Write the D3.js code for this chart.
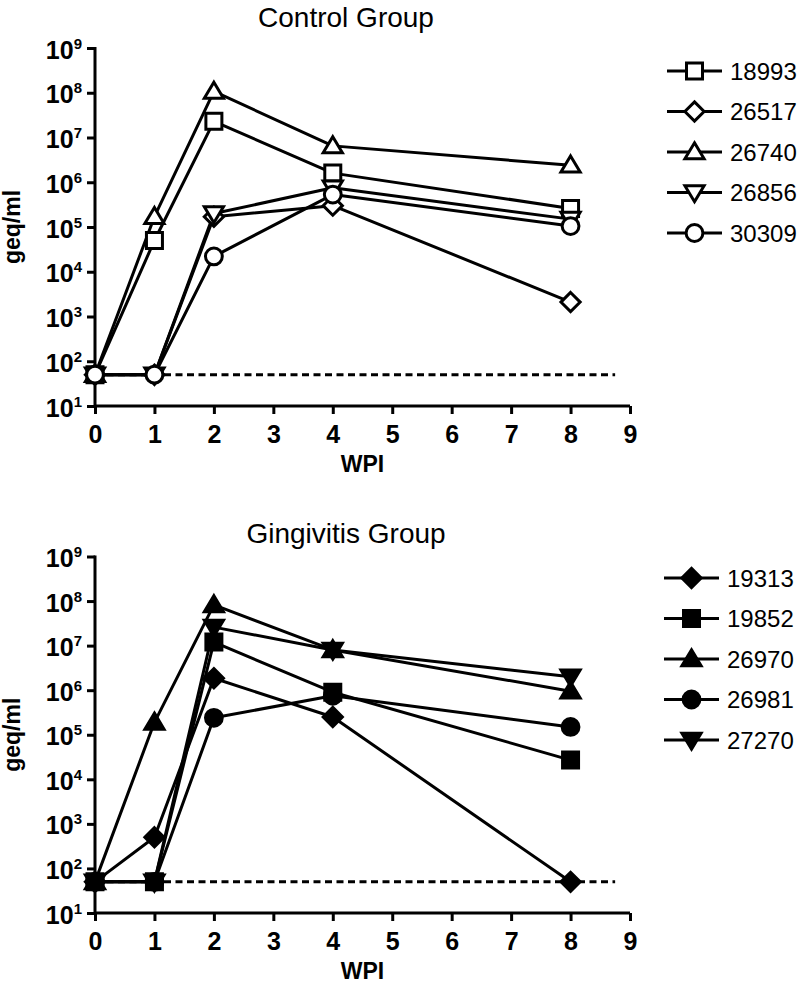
<!DOCTYPE html>
<html><head><meta charset="utf-8">
<script src="https://cdn.jsdelivr.net/npm/d3@7"></script>
<style>body{margin:0;background:#fff;} svg{display:block;}</style>
</head><body>
<svg id="chart" width="800" height="985"></svg>
<script>
const weeks = [0, 1, 2, 4, 8];
const xTicks = [0,1,2,3,4,5,6,7,8,9];
const yTicks = [1,2,3,4,5,6,7,8,9];
const detectionLimit = 50;

const controlTitle = "Control Group";
const controlIds = ["18993","26517","26740","26856","30309"];
const controlShapes = ["square","diamond","triangle","triangleDown","circle"];
const c18993 = [50, 5.0e4, 2.3e7, 1.6e6, 2.6e5];
const c26517 = [50, 50, 1.7e5, 3.0e5, 2.1e3];
const c26740 = [50, 1.7e5, 1.07e8, 6.5e6, 2.4e6];
const c26856 = [50, 50, 2.0e5, 7.5e5, 1.5e5];
const c30309 = [50, 50, 2.2e4, 5.3e5, 1.05e5];

const gingTitle = "Gingivitis Group";
const gingIds = ["19313","19852","26970","26981","27270"];
const gingShapes = ["diamond","square","triangle","circle","triangleDown"];
const g19313 = [50, 500, 1.85e6, 2.5e5, 50];
const g19852 = [50, 50, 1.2e7, 9.0e5, 2.7e4];
const g26970 = [50, 1.9e5, 8.2e7, 8.0e6, 9.5e5];
const g26981 = [50, 50, 2.4e5, 7.5e5, 1.5e5];
const g27270 = [50, 50, 2.6e7, 8.0e6, 2.0e6];

const svg = d3.select("#chart");
const FONT = "'Liberation Sans', Arial, sans-serif";

function shapePath(shape, s) {
  const h = s / 2;
  switch (shape) {
    case "square": return `M${-h},${-h}H${h}V${h}H${-h}Z`;
    case "diamond": { const d = h * 1.2; return `M0,${-d}L${d},0L0,${d}L${-d},0Z`; }
    case "triangle": { const w = h * 1.2; return `M0,${-h*1.15}L${w},${h*0.85}L${-w},${h*0.85}Z`; }
    case "triangleDown": { const w = h * 1.2; return `M0,${h*1.15}L${w},${-h*0.85}L${-w},${-h*0.85}Z`; }
    case "circle": { const r = h * 1.05; return `M${r},0A${r},${r} 0 1,1 ${-r},0A${r},${r} 0 1,1 ${r},0Z`; }
  }
}

function drawPanel(opts) {
  const g = svg.append("g");
  const x = d3.scaleLinear().domain([0, 9]).range([95, 630]);
  const y = d3.scaleLog().domain([10, 1e9]).range([opts.bottom, opts.top]);

  // title
  g.append("text").attr("x", 346).attr("y", opts.titleY).attr("text-anchor", "middle")
    .attr("font-family", FONT).attr("font-size", 28).text(opts.title);

  // axes
  const xAxis = d3.axisBottom(x).tickValues(xTicks).tickSize(8).tickFormat(d3.format("d"));
  const xa = g.append("g").attr("transform", `translate(0,${opts.bottom})`).call(xAxis);
  xa.select(".domain").attr("stroke-width", 3).attr("d", `M${x(0)},0H${x(9)}`);
  xa.selectAll(".tick line").attr("stroke-width", 3);
  xa.selectAll(".tick text").attr("font-family", FONT).attr("font-weight", "bold")
    .attr("font-size", 25).attr("y", 37).attr("dy", 0);

  const yAxis = d3.axisLeft(y).tickValues(yTicks.map(p => Math.pow(10, p))).tickSize(8).tickFormat("");
  const ya = g.append("g").attr("transform", `translate(${x(0)},0)`).call(yAxis);
  ya.select(".domain").attr("stroke-width", 3).attr("d", `M0,${opts.top - 1}V${opts.bottom}`);
  ya.selectAll(".tick line").attr("stroke-width", 3);
  ya.selectAll(".tick").each(function(d, i) {
    const t = d3.select(this).append("text").attr("x", -13).attr("y", 10)
      .attr("text-anchor", "end").attr("font-family", FONT).attr("font-weight", "bold")
      .attr("font-size", 25).attr("fill", "#000");
    t.append("tspan").text("10");
    t.append("tspan").attr("font-size", 15).attr("dy", -10).text(String(yTicks[i]));
  });

  // axis labels
  g.append("text").attr("transform", `translate(20,${(opts.top + opts.bottom) / 2}) rotate(-90)`)
    .attr("text-anchor", "middle").attr("font-family", FONT).attr("font-weight", "bold")
    .attr("font-size", 23).text("geq/ml");
  g.append("text").attr("x", x(4.5)).attr("y", opts.bottom + 66).attr("text-anchor", "middle")
    .attr("font-family", FONT).attr("font-weight", "bold").attr("font-size", 23).text("WPI");

  // detection limit
  g.append("line").attr("x1", x(0)).attr("x2", x(8.75))
    .attr("y1", y(detectionLimit)).attr("y2", y(detectionLimit))
    .attr("stroke", "#000").attr("stroke-width", 3).attr("stroke-dasharray", "7,4.5");

  const line = d3.line().x((d, i) => x(weeks[i])).y(d => y(d));
  opts.series.forEach(s => {
    g.append("path").attr("d", line(s.values)).attr("fill", "none")
      .attr("stroke", "#000").attr("stroke-width", 3).attr("stroke-linejoin", "round");
  });
  opts.series.forEach(s => {
    g.selectAll(null).data(s.values).enter().append("path")
      .attr("d", shapePath(s.shape, 16))
      .attr("transform", (d, i) => `translate(${x(weeks[i])},${y(d)})`)
      .attr("fill", opts.filled ? "#000" : "#fff").attr("stroke", "#000").attr("stroke-width", 3);
  });

  // legend
  const lg = g.append("g");
  opts.series.forEach((s, i) => {
    const ly = opts.legendY + i * 40.5;
    lg.append("line").attr("x1", opts.legendX).attr("x2", opts.legendX + 55)
      .attr("y1", ly).attr("y2", ly).attr("stroke", "#000").attr("stroke-width", 3);
    lg.append("path").attr("d", shapePath(s.shape, 16))
      .attr("transform", `translate(${opts.legendX + 27.5},${ly})`)
      .attr("fill", opts.filled ? "#000" : "#fff").attr("stroke", "#000").attr("stroke-width", 3);
    lg.append("text").attr("x", opts.legendX + 63).attr("y", ly + 8.5)
      .attr("font-family", FONT).attr("font-size", 24).text(s.id);
  });
}

drawPanel({
  title: controlTitle, titleY: 27, top: 48, bottom: 406, filled: false,
  legendX: 667, legendY: 71,
  series: [c18993, c26517, c26740, c26856, c30309].map((v, i) => ({ id: controlIds[i], shape: controlShapes[i], values: v }))
});
drawPanel({
  title: gingTitle, titleY: 543, top: 556.5, bottom: 913, filled: true,
  legendX: 664, legendY: 578,
  series: [g19313, g19852, g26970, g26981, g27270].map((v, i) => ({ id: gingIds[i], shape: gingShapes[i], values: v }))
});
</script>
</body></html>
